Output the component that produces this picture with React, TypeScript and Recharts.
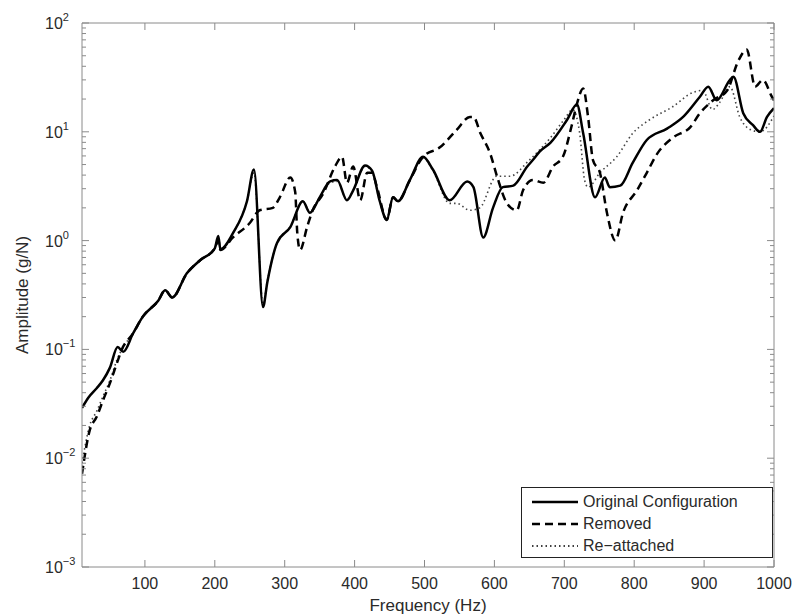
import React from "react";
import { Line, LineChart, XAxis, YAxis } from "recharts";

// Frequency response readings (Hz, g/N) for each configuration.
const ORIG_FREQ = [
  10, 19, 31, 40, 50, 61, 69, 83, 97, 119, 129, 139, 160, 179, 200, 205, 208, 226, 246, 256, 269, 275, 289, 308,
  326, 336, 350, 365, 375, 389, 398, 415, 425, 436, 446, 455, 462, 479, 498, 512, 536, 561, 570, 584, 598, 612,
  627, 647, 655, 665, 680, 704, 718, 727, 744, 758, 765, 780, 798, 818, 847, 870, 894, 906, 918, 937, 942, 956,
  970, 980, 990, 1000,
];
const ORIG_AMP = [
  0.029, 0.036, 0.044, 0.052, 0.068, 0.105, 0.095, 0.14, 0.2, 0.28, 0.35, 0.3, 0.5, 0.66, 0.85, 1.1, 0.83, 1.17,
  2.3, 4.5, 0.245, 0.41, 0.95, 1.33, 2.3, 1.8, 2.5, 3.5, 3.6, 2.35, 2.9, 4.9, 4.4, 2.3, 1.55, 2.5, 2.3, 3.6, 5.9,
  4.5, 2.35, 3.5, 3.1, 1.07, 2.0, 3.1, 3.2, 4.8, 5.5, 6.6, 7.9, 12.9, 17.8, 9.7, 2.5, 3.8, 3.1, 3.2, 5.2, 8.4,
  10.7, 13.7, 21, 26, 19.5, 30, 32, 14.8, 11.5, 10, 13.7, 16.5,
];

const REMOVED_FREQ = [
  10, 21, 31, 40, 50, 60, 67, 83, 97, 119, 129, 139, 160, 179, 200, 205, 208, 226, 250, 264, 283, 293, 308, 315,
  318, 322, 332, 340, 355, 372, 382, 389, 398, 408, 418, 425, 432, 446, 455, 462, 479, 498, 522, 546, 565, 570,
  580, 594, 604, 618, 632, 641, 655, 670, 684, 698, 710, 718, 727, 734, 741, 751, 761, 773, 784, 804, 818, 833,
  856, 880, 894, 913, 933, 949, 961, 973, 984, 997, 1000,
];
const REMOVED_AMP = [
  0.0072, 0.018, 0.024, 0.034, 0.049, 0.075, 0.1, 0.14, 0.2, 0.28, 0.35, 0.3, 0.5, 0.66, 0.85, 1.0, 0.82, 1.07,
  1.45, 1.9, 2.0, 2.5, 3.8, 2.8, 1.17, 0.82, 1.33, 1.9, 2.7, 4.8, 5.9, 3.4, 4.8, 2.35, 4.2, 4.2, 3.1, 1.55, 2.5,
  2.3, 3.6, 5.9, 7.2, 10.4, 13.7, 13.7, 9.7, 6.3, 3.85, 2.2, 1.9, 2.9, 3.6, 3.4, 4.8, 5.9, 11, 18, 25, 13.7, 5.5,
  4.2, 1.8, 1.0, 1.8, 2.9, 4.2, 6.3, 8.9, 11, 14.8, 19.5, 24, 45, 57, 26, 30, 21, 19.5,
];

const REATT_FREQ = [
  10, 21, 31, 40, 50, 60, 67, 83, 97, 119, 129, 139, 160, 179, 200, 205, 208, 226, 246, 256, 269, 275, 289, 308,
  326, 336, 350, 365, 375, 389, 398, 415, 425, 436, 446, 455, 462, 479, 498, 512, 536, 546, 565, 579, 603, 622,
  650, 680, 700, 712, 722, 729, 734, 751, 775, 798, 822, 855, 884, 898, 912, 922, 937, 951, 966, 980, 1000,
];
const REATT_AMP = [
  0.009, 0.02, 0.027, 0.037, 0.052, 0.08, 0.1, 0.14, 0.2, 0.28, 0.35, 0.3, 0.5, 0.66, 0.85, 1.05, 0.83, 1.17,
  2.3, 4.2, 0.26, 0.42, 0.95, 1.35, 2.3, 1.85, 2.5, 3.4, 3.5, 2.4, 2.9, 4.8, 4.3, 2.3, 1.6, 2.5, 2.3, 3.6, 5.8,
  4.4, 2.2, 2.2, 1.9, 2.0, 3.9, 3.9, 5.5, 8.8, 13, 16, 9.7, 3.6, 3.1, 4.2, 5.9, 9.7, 12.9, 17, 23, 24, 16, 18.5,
  26, 13.7, 10.5, 10, 14,
];

const X_TICKS = [100, 200, 300, 400, 500, 600, 700, 800, 900, 1000];
const Y_DECADES = [0.001, 0.01, 0.1, 1, 10, 100];

const AXIS = "#8a8a8a";
const TEXT = "#2a2a2a";
const FONT = "'Liberation Sans', Arial, sans-serif";

const toPoints = (freq: number[], amp: number[]) => freq.map((f, i) => ({ f, a: amp[i] }));

// Log ticks: the decades plus 2..9 minors in each decade.
const Y_TICKS: number[] = [];
Y_DECADES.forEach((d, i) => {
  if (i === Y_DECADES.length - 1) {
    Y_TICKS.push(d);
    return;
  }
  for (let k = 1; k <= 9; k++) Y_TICKS.push(Number((k * d).toPrecision(3)));
});

function decade(v: number) {
  const e = Math.round(Math.log10(v));
  return { e, major: Math.abs(Math.log10(v) - e) < 1e-6 };
}

function LeftTick({ x, y, payload }: any) {
  const { e, major } = decade(payload.value);
  return (
    <g>
      <line x1={x} x2={x + (major ? 7 : 4)} y1={y} y2={y} stroke={AXIS} />
      {major && (
        <text x={x - 37} y={y + 6} fill={TEXT} fontSize={16} fontFamily={FONT}>
          <tspan>10</tspan>
          <tspan dy={-8} fontSize={11}>
            {e < 0 ? `\u2212${-e}` : e}
          </tspan>
        </text>
      )}
    </g>
  );
}

function RightTick({ x, y, payload }: any) {
  const { major } = decade(payload.value);
  return <line x1={x} x2={x - (major ? 7 : 4)} y1={y} y2={y} stroke={AXIS} />;
}

function BottomTick({ x, y, payload }: any) {
  return (
    <g>
      <line x1={x} x2={x} y1={y} y2={y - 7} stroke={AXIS} />
      <text x={x} y={y + 22} textAnchor="middle" fill={TEXT} fontSize={16} fontFamily={FONT}>
        {payload.value}
      </text>
    </g>
  );
}

function TopTick({ x, y }: any) {
  return <line x1={x} x2={x} y1={y} y2={y + 7} stroke={AXIS} />;
}

function LegendRow({ dash, width, label }: { dash?: string; width: number; label: string }) {
  return (
    <div style={{ display: "flex", alignItems: "center", height: 22 }}>
      <svg width={52} height={10} style={{ marginLeft: 9 }}>
        <line x1={1} x2={47} y1={5} y2={5} stroke="#000" strokeWidth={width} strokeDasharray={dash} />
      </svg>
      <span>{label}</span>
    </div>
  );
}

export default function App() {
  return (
    <div style={{ position: "absolute", left: 0, top: 0, width: 795, height: 616, background: "#fff" }}>
      <LineChart width={795} height={616} margin={{ top: 13, right: 11, bottom: 0, left: 0 }}>
        <XAxis
          xAxisId="b"
          type="number"
          dataKey="f"
          domain={[10, 1000]}
          allowDataOverflow
          ticks={X_TICKS}
          interval={0}
          height={49}
          tickSize={0}
          tickMargin={0}
          tick={<BottomTick />}
          axisLine={{ stroke: AXIS }}
          label={{
            content: ({ viewBox }: any) => (
              <text
                x={viewBox.x + viewBox.width / 2}
                y={611}
                textAnchor="middle"
                fill={TEXT}
                fontSize={17}
                fontFamily={FONT}
              >
                Frequency (Hz)
              </text>
            ),
          }}
        />
        <XAxis
          xAxisId="t"
          orientation="top"
          type="number"
          dataKey="f"
          domain={[10, 1000]}
          allowDataOverflow
          ticks={X_TICKS}
          interval={0}
          height={10}
          tickSize={0}
          tickMargin={0}
          tick={<TopTick />}
          axisLine={{ stroke: AXIS }}
        />
        <YAxis
          yAxisId="l"
          type="number"
          scale="log"
          domain={[0.001, 100]}
          allowDataOverflow
          ticks={Y_TICKS}
          interval={0}
          width={82}
          tickSize={0}
          tickMargin={0}
          tick={<LeftTick />}
          axisLine={{ stroke: AXIS }}
          label={{
            content: ({ viewBox }: any) => {
              const cy = viewBox.y + viewBox.height / 2;
              return (
                <text
                  x={22}
                  y={cy}
                  transform={`rotate(-90, 22, ${cy})`}
                  textAnchor="middle"
                  dominantBaseline="central"
                  fill={TEXT}
                  fontSize={17}
                  fontFamily={FONT}
                >
                  Amplitude (g/N)
                </text>
              );
            },
          }}
        />
        <YAxis
          yAxisId="r"
          orientation="right"
          type="number"
          scale="log"
          domain={[0.001, 100]}
          allowDataOverflow
          ticks={Y_TICKS}
          interval={0}
          width={10}
          tickSize={0}
          tickMargin={0}
          tick={<RightTick />}
          axisLine={{ stroke: AXIS }}
        />
        <Line
          xAxisId="b"
          yAxisId="l"
          data={toPoints(REATT_FREQ, REATT_AMP)}
          dataKey="a"
          type="monotone"
          stroke="#444"
          strokeWidth={1.6}
          strokeDasharray="1.5 3"
          dot={false}
          isAnimationActive={false}
        />
        <Line
          xAxisId="b"
          yAxisId="l"
          data={toPoints(REMOVED_FREQ, REMOVED_AMP)}
          dataKey="a"
          type="monotone"
          stroke="#000"
          strokeWidth={2.5}
          strokeDasharray="8 5"
          dot={false}
          isAnimationActive={false}
        />
        <Line
          xAxisId="b"
          yAxisId="l"
          data={toPoints(ORIG_FREQ, ORIG_AMP)}
          dataKey="a"
          type="monotone"
          stroke="#000"
          strokeWidth={2.5}
          dot={false}
          isAnimationActive={false}
        />
      </LineChart>
      <div
        style={{
          position: "absolute",
          left: 521,
          top: 487,
          width: 252,
          height: 71,
          border: "1px solid #222",
          background: "#fff",
          fontFamily: FONT,
          fontSize: 16,
          color: TEXT,
          paddingTop: 3,
          boxSizing: "border-box",
        }}
      >
        <LegendRow width={2.5} label="Original Configuration" />
        <LegendRow width={2.5} dash="8 5" label="Removed" />
        <LegendRow width={1.6} dash="1.5 3" label={"Re\u2212attached"} />
      </div>
    </div>
  );
}
